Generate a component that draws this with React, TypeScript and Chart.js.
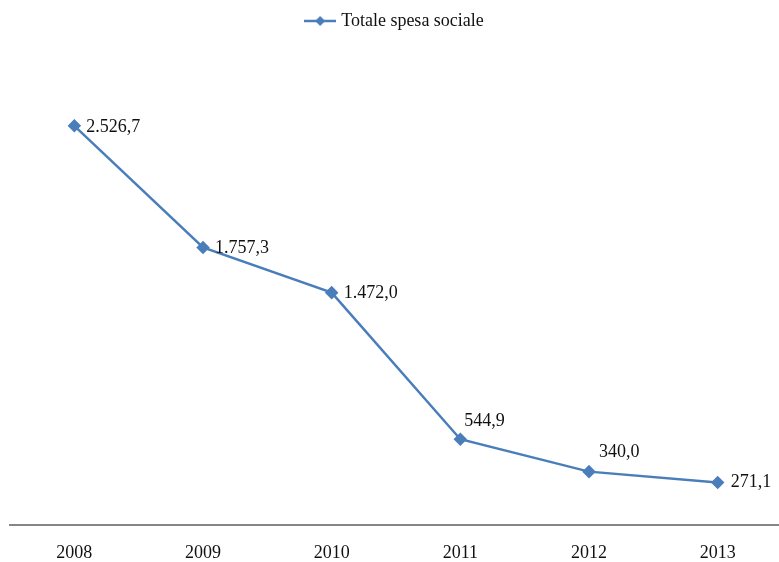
import React, { useEffect, useRef } from 'react';
import { Chart, registerables } from 'chart.js';
Chart.register(...registerables);

const years = ['2008', '2009', '2010', '2011', '2012', '2013'];
const spesaSociale = [2526.7, 1757.3, 1472.0, 544.9, 340.0, 271.1];
const seriesLabel = 'Totale spesa sociale';

const LINE_COLOR = '#4a7ebb';
const FONT = '"Liberation Serif", "DejaVu Serif", serif';

function fmt(v: number): string {
  const [i, d] = v.toFixed(1).split('.');
  return i.replace(/\B(?=(\d{3})+(?!\d))/g, '.') + ',' + d;
}

const labelPlugin = {
  id: 'pointLabels',
  afterDatasetsDraw(chart: any, _args: any, opts: any) {
    const ctx = chart.ctx;
    const meta = chart.getDatasetMeta(0);
    const data = chart.data.datasets[0].data as number[];
    const offsets: number[][] = opts.offsets || [];
    ctx.save();
    ctx.font = `18px ${FONT}`;
    ctx.fillStyle = '#111';
    ctx.textAlign = 'left';
    ctx.textBaseline = 'middle';
    meta.data.forEach((pt: any, i: number) => {
      const o = offsets[i] || [12, 0];
      ctx.fillText(fmt(data[i]), pt.x + o[0], pt.y + o[1]);
    });
    ctx.restore();
  },
};

const legendSpacer = {
  id: 'legendSpacer',
  beforeInit(chart: any) {
    const legend = chart.legend;
    if (!legend) return;
    const orig = legend.fit;
    legend.fit = function () {
      orig.call(this);
      this.height += 11;
    };
  },
};

function makeLegendMarker(): HTMLCanvasElement {
  const c = document.createElement('canvas');
  c.width = 32;
  c.height = 12;
  const g = c.getContext('2d')!;
  g.strokeStyle = LINE_COLOR;
  g.lineWidth = 2.5;
  g.beginPath();
  g.moveTo(0, 6);
  g.lineTo(32, 6);
  g.stroke();
  g.fillStyle = LINE_COLOR;
  g.beginPath();
  g.moveTo(16, 1);
  g.lineTo(21, 6);
  g.lineTo(16, 11);
  g.lineTo(11, 6);
  g.closePath();
  g.fill();
  return c;
}

export default function App() {
  const ref = useRef<HTMLCanvasElement>(null);
  useEffect(() => {
    const chart = new Chart(ref.current!, {
      type: 'line',
      data: {
        labels: years,
        datasets: [
          {
            label: seriesLabel,
            data: spesaSociale,
            borderColor: LINE_COLOR,
            backgroundColor: LINE_COLOR,
            borderWidth: 2.5,
            pointStyle: 'rectRot',
            pointRadius: 5,
            pointHoverRadius: 5,
            tension: 0,
          },
        ],
      },
      options: {
        responsive: false,
        animation: false,
        devicePixelRatio: 1,
        layout: { autoPadding: false, padding: { left: 10, right: 0, top: 2, bottom: -5 } },
        plugins: {
          legend: {
            display: true,
            position: 'top',
            labels: {
              usePointStyle: true,
              pointStyle: makeLegendMarker() as any,
              pointStyleWidth: 24,
              boxHeight: 12,
              color: '#111',
              font: { family: FONT, size: 18 },
              padding: 10,
            },
          },
          tooltip: { enabled: false },
          pointLabels: {
            offsets: [[12, 1], [12, 1], [12, 1], [4, -18], [10, -19], [13, 0]],
          },
        } as any,
        scales: {
          x: {
            offset: true,
            grid: { display: true, drawOnChartArea: false, drawTicks: true, tickLength: 14, tickColor: 'rgba(0,0,0,0)' },
            border: { display: true, color: '#868686', width: 2 },
            ticks: { color: '#111', font: { family: FONT, size: 18 }, padding: 3 },
          },
          y: {
            display: false,
            min: 0,
            max: 3000,
          },
        },
      },
      plugins: [labelPlugin, legendSpacer],
    });
    return () => chart.destroy();
  }, []);
  return (
    <div style={{ position: 'fixed', left: 0, top: 0, width: 779, height: 562, overflow: 'hidden', background: '#fff' }}>
      <canvas ref={ref} width={782} height={562} style={{ width: 782, height: 562, display: 'block' }} />
    </div>
  );
}
